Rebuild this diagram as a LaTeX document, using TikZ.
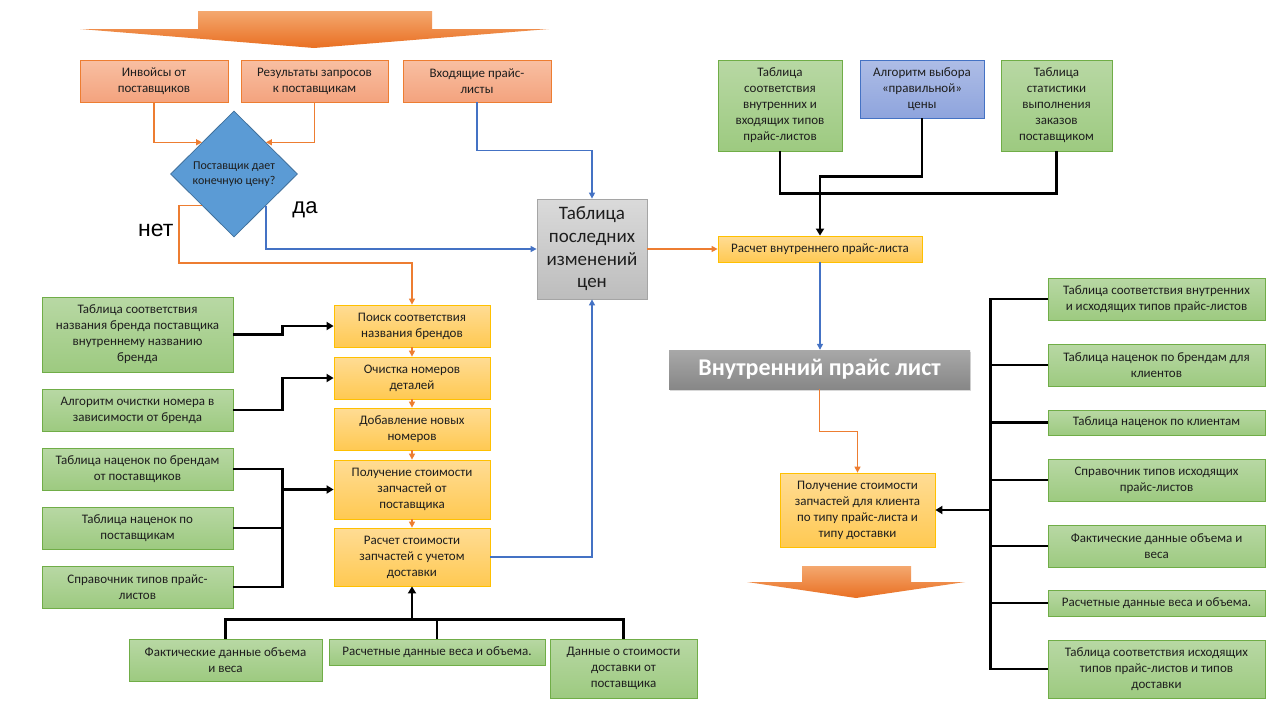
\documentclass[tikz,border=0pt]{standalone}
\usepackage{fontspec}
\setmainfont{Carlito}
\newfontfamily\arialf{Liberation Sans}
\usetikzlibrary{shapes.geometric,arrows.meta,shadows}
\definecolor{txt}{HTML}{1E1E1E}
\definecolor{orT}{HTML}{F8BFA2}
\definecolor{orB}{HTML}{F4A37E}
\definecolor{orD}{HTML}{ED7D31}
\definecolor{grT}{HTML}{B8D8A4}
\definecolor{grB}{HTML}{9DCA80}
\definecolor{grD}{HTML}{70AD47}
\definecolor{ylT}{HTML}{FFDC94}
\definecolor{ylB}{HTML}{FFC952}
\definecolor{ylD}{HTML}{FFC000}
\definecolor{blT}{HTML}{AEBDE6}
\definecolor{blB}{HTML}{8EA4DD}
\definecolor{blD}{HTML}{4472C4}
\definecolor{diaF}{HTML}{5B9BD5}
\definecolor{diaD}{HTML}{41719C}
\definecolor{gyT}{HTML}{DADADA}
\definecolor{gyB}{HTML}{BDBDBD}
\definecolor{gyD}{HTML}{A5A5A5}
\definecolor{inT}{HTML}{A8A8A8}
\definecolor{inB}{HTML}{878787}
\definecolor{arT}{HTML}{F4A86F}
\definecolor{arB}{HTML}{E96F22}
\definecolor{lnB}{HTML}{4472C4}
\definecolor{lnO}{HTML}{ED7D31}
\begin{document}
\begin{tikzpicture}[x=1pt,y=-1pt,
  base/.style={draw,line width=0.8pt,inner sep=0pt,align=center,text=txt,
    font=\fontsize{13}{16}\selectfont},
  obox/.style={base,top color=orT,bottom color=orB,draw=orD},
  gbox/.style={base,top color=grT,bottom color=grB,draw=grD},
  ybox/.style={base,top color=ylT,bottom color=ylB,draw=ylD},
  bbox/.style={base,top color=blT,bottom color=blB,draw=blD},
  sz/.style 2 args={minimum width=#1pt,minimum height=#2pt},
  oarr/.style={draw=lnO,line width=1.3pt,-{Triangle[length=6pt,width=6pt]}},
  barr/.style={draw=lnB,line width=1.3pt,-{Triangle[length=6pt,width=6pt]}},
  kline/.style={draw=black,line width=2.3pt},
  karr/.style={kline,-{Triangle[length=7pt,width=8pt]}},
  bigarrow/.style={top color=arT,bottom color=arB,draw=none}
]
\useasboundingbox (0,0) rectangle (1280,720);
\fill[white] (0,0) rectangle (1280,720);

% big arrows
\shade[bigarrow] (198,11) -- (432,11) -- (432,29) -- (549,29) -- (314,48) -- (80,29) -- (198,29) -- cycle;
\shade[bigarrow] (802,566) -- (911,566) -- (911,582) -- (965,582) -- (856,598) -- (747,582) -- (802,582) -- cycle;

% top orange boxes
\node[obox,sz={148}{42}] (o1) at (154,81) {Инвойсы от\\поставщиков};
\node[obox,sz={147}{42}] (o2) at (314.5,81) {Результаты запросов\\к поставщикам};
\node[obox,sz={148}{42}] (o3) at (477,81) {Входящие прайс-\\листы};

% decision
\node[diamond,draw=diaD,fill=diaF,line width=0.8pt,inner sep=0pt,minimum width=127pt,minimum height=126pt,
  align=center,text=txt,font=\fontsize{12}{15}\selectfont] (dia) at (234,174) {Поставщик дает\\конечную цену?};
\node[font=\arialf\fontsize{23}{26}\selectfont,anchor=base,inner sep=0pt] (lno) at (155.7,236.7) {нет};
\node[font=\arialf\fontsize{22}{26}\selectfont,anchor=base,inner sep=0pt] (lyes) at (305,213.3) {да};

% gray table
\node[base,top color=gyT,bottom color=gyB,draw=gyD,sz={110}{100},font=\fontsize{19}{22.7}\selectfont] (gray) at (592,249)
  {Таблица\\последних\\изменений\\цен};

% yellow chain
\node[ybox,sz={156}{42}] (y1) at (412,326) {Поиск соответствия\\названия брендов};
\node[ybox,sz={156}{42}] (y2) at (412,378) {Очистка номеров\\деталей};
\node[ybox,sz={156}{42}] (y3) at (412,429) {Добавление новых\\номеров};
\node[ybox,sz={156}{59}] (y4) at (412,489.5) {Получение стоимости\\запчастей от\\поставщика};
\node[ybox,sz={156}{58}] (y5) at (412,557) {Расчет стоимости\\запчастей с учетом\\доставки};

% left green
\node[gbox,sz={191}{75}] (a1) at (137.5,334.5) {Таблица соответствия\\названия бренда поставщика\\внутреннему названию\\бренда};
\node[gbox,sz={191}{42}] (a2) at (137.5,410) {Алгоритм очистки номера в\\зависимости от бренда};
\node[gbox,sz={191}{42}] (a3) at (137.5,469) {Таблица наценок по брендам\\от поставщиков};
\node[gbox,sz={191}{42}] (a4) at (137.5,528) {Таблица наценок по\\поставщикам};
\node[gbox,sz={191}{42}] (a5) at (137.5,587) {Справочник типов прайс-\\листов};

% bottom green
\node[gbox,sz={193}{42}] (b1) at (225.5,660) {Фактические данные объема\\и веса};
\node[gbox,sz={216}{26}] (b2) at (437,652) {Расчетные данные веса и объема.};
\node[gbox,sz={147}{59}] (b3) at (623.5,668.5) {Данные о стоимости\\доставки от\\поставщика};

% right top
\node[gbox,sz={124}{91}] (c1) at (780,105.5) {Таблица\\соответствия\\внутренних и\\входящих типов\\прайс-листов};
\node[bbox,sz={124}{58}] (c2) at (922,89) {Алгоритм выбора\\«правильной»\\цены};
\node[gbox,sz={111}{91}] (c3) at (1056.5,105.5) {Таблица\\статистики\\выполнения\\заказов\\поставщиком};
\node[ybox,sz={204}{26}] (r1) at (820,249) {Расчет внутреннего прайс-листа};

\node[draw=none,inner sep=0pt,top color=inT,bottom color=inB,minimum width=301pt,minimum height=39pt,
  drop shadow={opacity=0.3,shadow xshift=1pt,shadow yshift=-2pt},
  text=white,font=\bfseries\fontsize{24}{26}\selectfont] (int) at (819.5,369.5) {Внутренний прайс лист};

\node[ybox,sz={155}{74}] (p) at (857.5,510) {Получение стоимости\\запчастей для клиента\\по типу прайс-листа и\\типу доставки};

% right green
\node[gbox,sz={217}{42}] (d1) at (1156.5,299) {Таблица соответствия внутренних\\и исходящих типов прайс-листов};
\node[gbox,sz={217}{42}] (d2) at (1156.5,365) {Таблица наценок по брендам для\\клиентов};
\node[gbox,sz={217}{25}] (d3) at (1156.5,422.5) {Таблица наценок по клиентам};
\node[gbox,sz={217}{42}] (d4) at (1156.5,480) {Справочник типов исходящих\\прайс-листов};
\node[gbox,sz={217}{42}] (d5) at (1156.5,546) {Фактические данные объема и\\веса};
\node[gbox,sz={217}{26}] (d6) at (1156.5,603) {Расчетные данные веса и объема.};
\node[gbox,sz={217}{58}] (d7) at (1156.5,669) {Таблица соответствия исходящих\\типов прайс-листов и типов\\доставки};

% connectors: top-left
\draw[oarr] (o1.south) |- (dia.north west);
\draw[oarr] (o2.south) |- (dia.north east);
\draw[barr] (o3.south) -- ++(0,48) -| (gray.north);
\draw[oarr] (dia.south west) -| (179,263) -| (y1.north);
\draw[barr] (dia.south east) |- (gray.west);

% yellow chain
\draw[oarr] (y1.south) -- (y2.north);
\draw[oarr] (y2.south) -- (y3.north);
\draw[oarr] (y3.south) -- (y4.north);
\draw[oarr] (y4.south) -- (y5.north);
\draw[barr] (y5.east) -| (gray.south);

% left green inputs
\draw[karr] (a1.east) -- ++(49,0) |- (y1.west);
\draw[karr] (a2.east) -- ++(49,0) |- (y2.west);
\draw[kline] (a3.east) -- ++(49,0) coordinate (lbus) |- (a5.east);
\draw[kline] (a4.east) -- ++(49,0);
\draw[karr] (lbus |- y4.west) -- (y4.west);

% bottom inputs
\draw[kline] (b1.north) -- ++(0,-19) coordinate (bbus) -| (b3.north);
\draw[kline] (b2.north) -- ++(0,-19);
\draw[karr] (bbus -| y5.south) -- (y5.south);

% right top
\draw[kline] (c1.south) -- ++(0,42) -| (c3.south);
\draw[karr] (c2.south) -- ++(0,58) -| (r1.north);
\draw[oarr] (gray.east |- r1.west) -- (r1.west);
\draw[barr] (r1.south) -- (r1.south |- int.north);
\draw[oarr] (int.south) -- ++(0,42) -| (p.north);

% right inputs
\draw[kline] (d1.west) -- ++(-57,0) coordinate (rbus) |- (d7.west);
\foreach \n in {d2,d3,d4,d5,d6} \draw[kline] (\n.west) -- ++(-57,0);
\draw[karr] (rbus |- p.east) -- (p.east);
\end{tikzpicture}
\end{document}
